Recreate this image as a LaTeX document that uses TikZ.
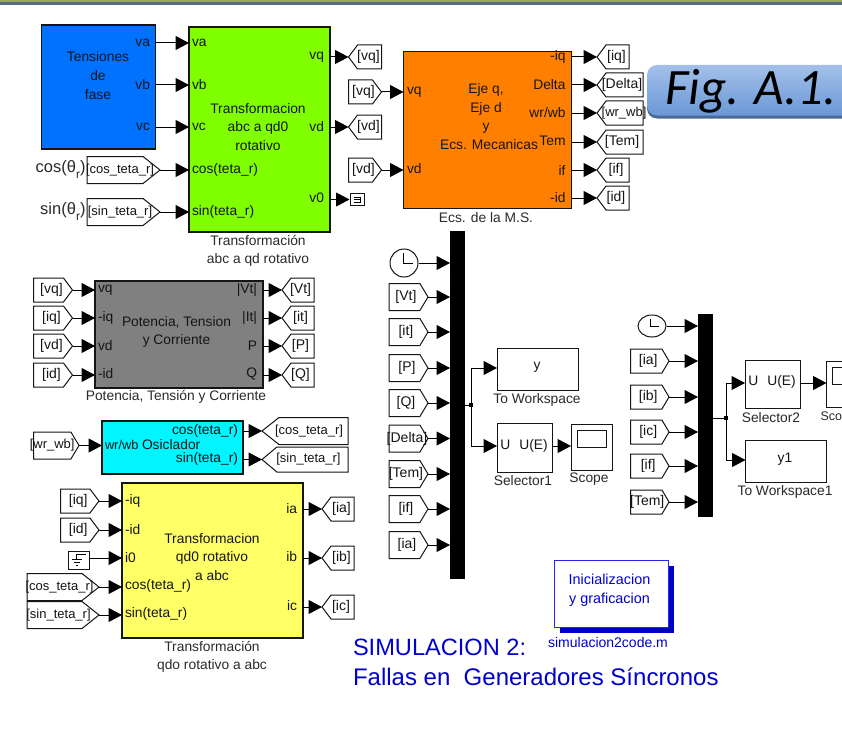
\documentclass[tikz,border=0pt]{standalone}
\usepackage{fontspec}
\setmainfont{Liberation Sans}
\newfontfamily\figfont{Carlito}
\usetikzlibrary{arrows.meta,shapes.symbols,shapes.geometric}
\definecolor{ink}{HTML}{151515}
\definecolor{capt}{HTML}{2A2A2A}
\definecolor{navy}{HTML}{0000CC}
\tikzset{
  txt/.style={font=\fontsize{13.8}{16}\selectfont,text=ink,inner sep=0pt,outer sep=0pt,align=center},
  caption/.style={txt,text=capt},
  portl/.style={txt,anchor=west},
  portr/.style={txt,anchor=east},
  block/.style={draw=ink,line width=1.2pt,rectangle,inner sep=0pt,outer sep=0pt},
  mux/.style={fill=black,draw=none,rectangle,inner sep=0pt,outer sep=0pt},
  tagbase/.style={draw=ink,line width=1pt,fill=white,shape=signal,inner sep=0pt,outer sep=0pt,
     font=\fontsize{14}{16}\selectfont,text=ink},
  fromtag/.style={tagbase,signal to=east,anchor=west},
  gototag/.style={tagbase,signal to=west,anchor=west},
  wire/.style={draw=black,line width=1pt,-{Triangle[length=13.5pt,width=14pt]}},
  plainwire/.style={draw=black,line width=1pt},
  jdot/.style={fill=black,rectangle,minimum size=3.5pt,inner sep=0pt},
  bigl/.style={txt,anchor=east,font=\fontsize{16.5}{18}\selectfont,text=capt},
}
% name, x1, x2, y, half height, pointer angle, text shift, text
\newcommand\ftag[8]{\node[fromtag,minimum width={(#3-#2)*1pt},minimum height={2*#5*1pt},signal pointer angle=#6] (#1) at (#2,#4) {\hspace*{#7pt}\makebox[0pt]{#8}};}
\newcommand\gtag[8]{\node[gototag,minimum width={(#3-#2)*1pt},minimum height={2*#5*1pt},signal pointer angle=#6] (#1) at (#2,#4) {\hspace*{#7pt}\makebox[0pt]{#8}};}
\newcommand\rsub{\raisebox{-6pt}{\fontsize{12}{12}\selectfont r}}
\newcommand\lng{\fontsize{13}{16}\selectfont}
\begin{document}
\begin{tikzpicture}[x=1pt,y=-1pt]
\path[use as bounding box] (0,0) rectangle (842,749);
\clip (0,0) rectangle (842,749);
\fill[white] (0,0) rectangle (842,749);
\fill[fill={rgb,255:red,150;green,172;blue,92}] (0,0) rectangle (842,2.5);
\fill[fill={rgb,255:red,88;green,108;blue,130}] (0,2.5) rectangle (842,5);
% ---------- Fig box
\fill[fill={rgb,255:red,74;green,106;blue,150},rounded corners=10pt] (647,68) rectangle (870,118.5);
\shade[top color={rgb,255:red,163;green,192;blue,234},bottom color={rgb,255:red,106;green,152;blue,214},rounded corners=10pt] (647,65) rectangle (870,115.5);
\node[inner sep=0pt,anchor=west,font=\figfont\itshape\fontsize{51}{51}\selectfont,text=black] (figlbl) at (665,91) {Fig. A.1.};
% ---------- Tensiones
\node[block,fill={rgb,255:red,0;green,114;blue,255},minimum width=114pt,minimum height=124pt] (ten) at (98.5,87) {};
\node[txt] (tentxt) at (98,75.5) {Tensiones\\[2.6pt]de\\[2.6pt]fase};
\node[portr] (tva) at (150,43) {va};
\node[portr] (tvb) at (150,85) {vb};
\node[portr] (tvc) at (150,127) {vc};
% ---------- Green
\node[block,fill={rgb,255:red,128;green,255;blue,0},minimum width=141pt,minimum height=205pt] (grn) at (259.5,129.5) {};
\node[txt] (grntxt) at (258,127) {Transformacion\\[2.6pt]abc a qd0\\[2.6pt]rotativo};
\node[caption] (grncap) at (258,251) {Transformación\\[2.6pt]abc a qd rotativo};
\node[portl] (gva) at (192,43) {va};
\node[portl] (gvb) at (192,85) {vb};
\node[portl] (gvc) at (192,127) {vc};
\node[portl] (gcos) at (192,170) {cos(teta\_r)};
\node[portl] (gsin) at (192,212) {sin(teta\_r)};
\node[portr] (gvq) at (324,57) {vq};
\node[portr] (gvd) at (324,127) {vd};
\node[portr] (gv0) at (324,198) {v0};
\draw[wire] (ten.east |- 0,43) -- (grn.west |- 0,43);
\draw[wire] (ten.east |- 0,85) -- (grn.west |- 0,85);
\draw[wire] (ten.east |- 0,127) -- (grn.west |- 0,127);
\node[bigl] (cosl) at (85.5,170) {cos(θ\rsub)};
\node[bigl] (sinl) at (85.5,212) {sin(θ\rsub)};
\ftag{tc1}{87}{160}{170}{13.5}{77}{10}{\lng [cos\_teta\_r]}
\ftag{ts1}{87}{160}{212}{13.5}{77}{10}{\lng [sin\_teta\_r]}
\draw[wire] (tc1.east) -- (tc1.east -| grn.west);
\draw[wire] (ts1.east) -- (ts1.east -| grn.west);
\gtag{gq}{348.5}{381.5}{57}{12}{106}{-2}{[vq]}
\gtag{gd}{348.5}{381.5}{127}{12}{106}{-2}{[vd]}
\draw[wire] (grn.east |- gq.west) -- (gq.west);
\draw[wire] (grn.east |- gd.west) -- (gd.west);
\node[draw=ink,line width=1pt,fill=white,minimum width=14pt,minimum height=12pt,inner sep=0pt] (term) at (357,199.5) {};
\draw[plainwire,line width=0.9pt] ([shift={(3,-3)}]term.center) -- ([shift={(3,2.5)}]term.center) -- ([shift={(-3.5,2.5)}]term.center) ([shift={(-3.5,-2.5)}]term.center) -- ([shift={(3,-2.5)}]term.center) ([shift={(-3.5,0)}]term.center) -- ([shift={(3,0)}]term.center);
\draw[wire] (grn.east |- term.west) -- (term.west);
% ---------- Orange
\node[block,fill={rgb,255:red,255;green,128;blue,0},minimum width=168pt,minimum height=157pt] (ora) at (487.5,130) {};
\node[txt] (oratxt) at (486,108.5) {Eje q,\\[2.6pt]Eje d\\[2.6pt]y};
\node[txt] (oratxt2) at (489,145) {Ecs. Mecanicas};
\node[caption] (oracap) at (486,218) {Ecs. de la M.S.};
\node[portl] (ovq) at (407,92) {vq};
\node[portl] (ovd) at (407,169) {vd};
\node[portr] (oiq) at (565.5,57) {-iq};
\node[portr] (odl) at (565.5,85) {Delta};
\node[portr] (owr) at (565.5,113) {wr/wb};
\node[portr] (otm) at (565.5,141) {Tem};
\node[portr] (oif) at (565.5,170) {if};
\node[portr] (oid) at (565.5,198) {-id};
\ftag{fq}{348.5}{381.5}{92}{12}{106}{6}{[vq]}
\ftag{fd}{348.5}{381.5}{170}{12}{106}{6}{[vd]}
\draw[wire] (fq.east) -- (fq.east -| ora.west);
\draw[wire] (fd.east) -- (fd.east -| ora.west);
\gtag{oq}{597}{629}{57}{12}{106}{-2}{[iq]}
\gtag{ods}{597}{643}{85}{12}{106}{-5}{[Delta]}
\gtag{ow}{597}{643}{113}{12}{106}{-1}{\lng [wr\_wb]}
\gtag{ot}{597}{643}{142}{12}{106}{-5}{[Tem]}
\gtag{of}{597}{629}{170}{12}{106}{-3}{[if]}
\gtag{odd}{597}{629}{198}{12}{106}{-3}{[id]}
\foreach \t in {oq,ods,ow,ot,of,odd} \draw[wire] (ora.east |- \t.west) -- (\t.west);
% ---------- Gray
\node[block,fill={rgb,255:red,128;green,128;blue,128},minimum width=168pt,minimum height=107pt] (gry) at (179,334.5) {};
\node[txt] (grytxt) at (176.5,332) {Potencia, Tension\\[2.6pt]y Corriente};
\node[caption] (grycap) at (176,397) {Potencia, Tensión y Corriente};
\node[portl] (p1) at (98,290) {vq};
\node[portl] (p2) at (98,318) {-iq};
\node[portl] (p3) at (98,346) {vd};
\node[portl] (p4) at (98,374) {-id};
\node[portr] (p5) at (257,290) {|Vt|};
\node[portr] (p6) at (257,318) {|It|};
\node[portr] (p7) at (257,346) {P};
\node[portr] (p8) at (257,374) {Q};
\ftag{a1}{33.5}{72.5}{290}{12}{106}{6}{[vq]}
\ftag{a2}{33.5}{72.5}{318}{12}{106}{6}{[iq]}
\ftag{a3}{33.5}{72.5}{346}{12}{106}{6}{[vd]}
\ftag{a4}{33.5}{72.5}{375}{12}{106}{6}{[id]}
\foreach \t in {a1,a2,a3,a4} \draw[wire] (\t.east) -- (\t.east -| gry.west);
\gtag{b1}{282}{314}{290}{12}{106}{-4}{[Vt]}
\gtag{b2}{282}{314}{318}{12}{106}{-4}{[it]}
\gtag{b3}{282}{314}{346}{12}{106}{-4}{[P]}
\gtag{b4}{282}{314}{375}{12}{106}{-4}{[Q]}
\foreach \t in {b1,b2,b3,b4} \draw[wire] (gry.east |- \t.west) -- (\t.west);
% ---------- Cyan
\node[block,fill={rgb,255:red,0;green,245;blue,255},minimum width=141pt,minimum height=53pt] (cyn) at (172.5,447.5) {};
\node[portl,font=\fontsize{12.8}{16}\selectfont] (cw) at (105,445) {wr/wb};
\node[txt,anchor=west] (cosc) at (142,445) {Osiclador};
\node[portr] (cc) at (238,431) {cos(teta\_r)};
\node[portr] (cs) at (238,459) {sin(teta\_r)};
\ftag{w1}{33.5}{79}{445.5}{13.5}{118}{0}{\lng [wr\_wb]}
\draw[wire] (w1.east) -- (w1.east -| cyn.west);
\gtag{c1}{262}{348}{431}{13.5}{77}{-9}{\lng [cos\_teta\_r]}
\gtag{c2}{262}{348}{459.5}{12.5}{80}{-8}{\lng [sin\_teta\_r]}
\foreach \t in {c1,c2} \draw[wire] (cyn.east |- \t.west) -- (\t.west);
% ---------- Yellow
\node[block,fill={rgb,255:red,255;green,255;blue,102},minimum width=181pt,minimum height=155pt] (yel) at (212.5,560.5) {};
\node[txt] (yeltxt) at (212,557) {Transformacion\\[2.6pt]qd0 rotativo\\[2.6pt]a abc};
\node[caption] (yelcap) at (212,657) {Transformación\\[2.6pt]qdo rotativo a abc};
\node[portl] (y1) at (125,501) {-iq};
\node[portl] (y2) at (125,530) {-id};
\node[portl] (y3) at (125,558) {i0};
\node[portl] (y4) at (125,586) {cos(teta\_r)};
\node[portl] (y5) at (125,614) {sin(teta\_r)};
\node[portr] (y6) at (297,509) {ia};
\node[portr] (y7) at (297,557) {ib};
\node[portr] (y8) at (297,606) {ic};
\ftag{d1}{60.5}{99}{501}{12}{106}{6}{[iq]}
\ftag{d2}{60.5}{99}{530}{12}{106}{6}{[id]}
\node[draw=ink,line width=1pt,fill=white,minimum width=21pt,minimum height=18pt,inner sep=0pt] (gnd) at (78.5,560) {};
\draw[plainwire,line width=0.9pt] ([shift={(7,-6)}]gnd.center) -- ([shift={(-2,-6)}]gnd.center) -- ([shift={(-2,-1)}]gnd.center) ([shift={(-7,-1)}]gnd.center) -- ([shift={(3,-1)}]gnd.center) ([shift={(-5,2)}]gnd.center) -- ([shift={(1,2)}]gnd.center) ([shift={(-3,5)}]gnd.center) -- ([shift={(-1,5)}]gnd.center);
\draw[wire] (gnd.east |- 0,558) -- (yel.west |- 0,558);
\ftag{d4}{27}{99}{587}{13.5}{77}{10}{\lng [cos\_teta\_r]}
\ftag{d5}{27}{99}{615}{13.5}{77}{8}{\lng [sin\_teta\_r]}
\foreach \t in {d1,d2,d4,d5} \draw[wire] (\t.east) -- (\t.east -| yel.west);
\gtag{e1}{322}{354}{509}{12}{106}{-2}{[ia]}
\gtag{e2}{322}{354}{558}{12}{106}{-2}{[ib]}
\gtag{e3}{322}{354}{607}{12}{106}{-3}{[ic]}
\foreach \t in {e1,e2,e3} \draw[wire] (yel.east |- \t.west) -- (\t.west);
% ---------- Mux 1
\node[mux,minimum width=15pt,minimum height=348pt] (mx1) at (457.5,405) {};
\node[draw=ink,line width=1pt,fill=white,circle,minimum size=28pt,inner sep=0pt] (clk1) at (404,263) {};
\draw[plainwire] ([shift={(-1,-10)}]clk1.center) -- ([shift={(-1,0)}]clk1.center) -- ([shift={(9,0)}]clk1.center);
\draw[wire] (clk1.east) -- (clk1.east -| mx1.west);
\ftag{h1}{389}{428}{297}{13.5}{118}{3}{[Vt]}
\ftag{h2}{389}{428}{332}{13.5}{118}{3}{[it]}
\ftag{h3}{389}{428}{368}{13.5}{118}{5}{[P]}
\ftag{h4}{389}{428}{403}{13.5}{118}{3}{[Q]}
\ftag{h5}{389}{428}{438.5}{13.5}{118}{5}{[Delta]}
\ftag{h6}{389}{428}{474}{13.5}{118}{3}{[Tem]}
\ftag{h7}{389}{428}{509}{13.5}{118}{3}{[if]}
\ftag{h8}{389}{428}{545}{13.5}{118}{5}{[ia]}
\foreach \t in {h1,h2,h3,h4,h5,h6,h7,h8} \draw[wire] (\t.east) -- (\t.east -| mx1.west);
\coordinate (j1) at (471,405);
\node[block,line width=1pt,fill=white,minimum width=81pt,minimum height=42pt] (ws1) at (537.5,369.5) {};
\node[txt] (ws1t) at (537,367) {y};
\node[caption] (ws1c) at (537,400) {To Workspace};
\node[block,line width=1pt,fill=white,minimum width=55pt,minimum height=49pt] (sel1) at (524.5,447.5) {};
\node[txt] (sel1t) at (524,446) {U\hspace{9pt}U(E)};
\node[caption] (sel1c) at (523,481) {Selector1};
\node[block,line width=1pt,fill=white,minimum width=41pt,minimum height=46pt] (sc1) at (591.5,447) {};
\node[block,line width=1pt,fill=white,minimum width=29pt,minimum height=17pt] (sc1s) at (591.5,438.5) {};
\node[caption] (sc1c) at (589,479) {Scope};
\draw[plainwire] (mx1.east |- j1) -- (j1);
\draw[wire] (j1) |- (ws1.west |- 0,368);
\draw[wire] (j1) |- (sel1.west |- 0,446);
\node[jdot] (j1d) at (j1) {};
\draw[wire] (sel1.east |- 0,446) -- (sc1.west |- 0,446);
% ---------- Mux 2
\node[mux,minimum width=15pt,minimum height=203pt] (mx2) at (705.5,415.5) {};
\node[draw=ink,line width=1pt,fill=white,ellipse,minimum width=28pt,minimum height=22pt,inner sep=0pt] (clk2) at (652,326) {};
\draw[plainwire] ([shift={(-2,-7)}]clk2.center) -- ([shift={(-2,0)}]clk2.center) -- ([shift={(7,0)}]clk2.center);
\draw[wire] (clk2.east) -- (clk2.east -| mx2.west);
\ftag{k1}{630.5}{669}{361}{12}{119}{4}{[ia]}
\ftag{k2}{630.5}{669}{397}{12}{119}{4}{[ib]}
\ftag{k3}{630.5}{669}{432}{12}{119}{4}{[ic]}
\ftag{k4}{630.5}{669}{466}{12}{119}{4}{[if]}
\ftag{k5}{630.5}{669}{502}{12}{119}{2}{[Tem]}
\foreach \t in {k1,k2,k3,k4,k5} \draw[wire] (\t.east) -- (\t.east -| mx2.west);
\coordinate (j2) at (726,418);
\node[block,line width=1pt,fill=white,minimum width=55pt,minimum height=48pt] (sel2) at (772.5,384) {};
\node[txt] (sel2t) at (772,382) {U\hspace{9pt}U(E)};
\node[caption] (sel2c) at (771,418) {Selector2};
\node[block,line width=1pt,fill=white,minimum width=81pt,minimum height=42pt] (ws2) at (786,461) {};
\node[txt] (ws2t) at (785,459) {y1};
\node[caption] (ws2c) at (785,492) {To Workspace1};
\node[block,line width=1pt,fill=white,minimum width=41pt,minimum height=46pt,anchor=west] (sc2) at (826.5,384) {};
\node[block,line width=1pt,fill=white,minimum width=29pt,minimum height=17pt,anchor=west] (sc2s) at (832.5,375.5) {};
\node[caption,anchor=west,font=\fontsize{12.5}{16}\selectfont] (sc2c) at (820.5,416) {Sco};
\draw[plainwire] (mx2.east |- j2) -- (j2);
\draw[wire] (j2) |- (sel2.west |- 0,383);
\draw[wire] (j2) |- (ws2.west |- 0,460);
\node[jdot] (j2d) at (j2) {};
\draw[wire] (sel2.east |- 0,383) -- (sc2.west |- 0,383);
% ---------- Inicializacion
\fill[navy] (560,566) rectangle (674,633);
\node[draw={rgb,255:red,40;green,40;blue,230},line width=1pt,fill=white,minimum width=114pt,minimum height=67pt,inner sep=0pt] (ini) at (611,593.5) {};
\node[txt,text=navy!85!blue,font=\fontsize{14.4}{16}\selectfont] (inix) at (609.5,590.5) {Inicializacion\\[2.6pt]y graficacion};
\node[txt,text=navy,font=\fontsize{14}{16}\selectfont] (inic) at (608,642) {simulacion2code.m};
% ---------- Title
\node[txt,text=navy,anchor=west,font=\fontsize{23.6}{27}\selectfont] (tit1) at (353,647) {SIMULACION 2:};
\node[txt,text=navy,anchor=west,font=\fontsize{24}{27}\selectfont] (tit2) at (353,677) {Fallas en\hspace{0.28em} Generadores Síncronos};
\end{tikzpicture}
\end{document}
